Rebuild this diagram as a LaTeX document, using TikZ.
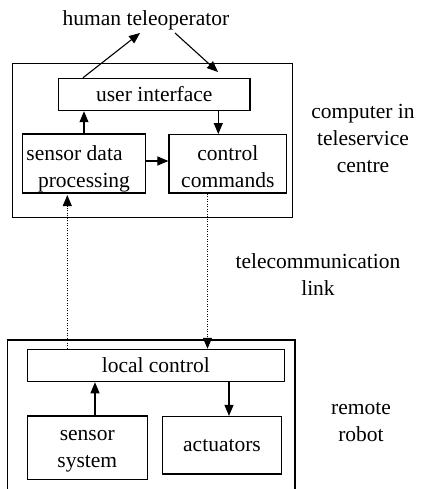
\documentclass[tikz,border=0pt]{standalone}
\usepackage{fontspec}
\setmainfont{Liberation Serif}
\usetikzlibrary{arrows.meta}
\newcommand\fsz{\fontsize{21.5}{27}\selectfont}
\begin{document}
\begin{tikzpicture}[x=1pt,y=-1pt,
  box/.style={draw, line width=1.1pt, inner sep=0pt, align=center, font=\fsz},
  frame/.style={draw, line width=1.1pt, inner sep=0pt},
  arr/.style={line width=1.1pt, -{Triangle[length=11pt,width=9pt]}},
  dotarr/.style={line width=1pt, dash pattern=on 1pt off 1.5pt, -{Triangle[length=11pt,width=9pt]}},
  lbl/.style={inner sep=0pt, align=center, font=\fsz}]
\useasboundingbox (0,0) rectangle (420,489);

% teleservice centre
\node[frame, minimum width=280.4pt, minimum height=154pt] (tsc) at (152.5,140.3) {};
\node[box, minimum width=191.3pt, minimum height=32.4pt] (ui) at (154.3,94.5) {user interface};
\node[box, minimum width=123.4pt, minimum height=57pt] (sdp) at (84,163.5)
  {\rule{0pt}{26pt}sensor data\rule{19pt}{0pt}\\\rule[-6pt]{0pt}{6pt}processing};
\node[box, minimum width=117.7pt, minimum height=57.5pt] (cc) at (227.8,163.8)
  {\rule{0pt}{25.4pt}control\\\rule[-6pt]{0pt}{6pt}commands};

% remote robot
\draw[line width=1.1pt] (7.3,489) -- (7.3,340) -- (295,340) -- (295,489);
\node[box, minimum width=257pt, minimum height=32.4pt] (lc) at (155.8,365.5) {local control};
\node[box, minimum width=120pt, minimum height=63.3pt] (ss) at (87.3,447.6)
  {\rule{0pt}{17.8pt}sensor\\\rule[-6pt]{0pt}{6pt}system};
\node[box, minimum width=119.4pt, minimum height=57.5pt] (act) at (222,445.2) {actuators};

% labels
\node[lbl, anchor=base] (ht) at (146,26) {human teleoperator};
\node[lbl, anchor=north] (comptxt) at (363,98) {\rule{0pt}{20pt}computer in\\teleservice\\centre};
\node[lbl, anchor=north] (tel) at (318,248) {\rule{0pt}{20pt}telecommunication\\link};
\node[lbl, anchor=north] (rr) at (361,394) {\rule{0pt}{20pt}remote\\robot};

% connectors
\coordinate (h1) at (140,33);
\coordinate (h2) at (175,33);
\coordinate (h3) at (218,72);
\draw[arr] (ui.north -| 83,0) -- (h1);
\draw[arr] (h2) -- (h3);
\draw[arr] (sdp.north) -- (sdp.north |- ui.south);
\draw[arr] (ui.south -| 218.3,0) -- (cc.north -| 218.3,0);
\coordinate (m) at ([yshift=2.5pt]sdp.east);
\draw[arr] (m) -- (m -| cc.west);
\draw[dotarr, shorten >=1.5pt] (lc.north -| 67.3,0) -- (sdp.south -| 67.3,0);
\draw[dotarr] (cc.south -| 207.5,0) -- (lc.north -| 207.5,0);
\draw[arr] (ss.north -| 95,0) -- (lc.south -| 95,0);
\draw[arr] (lc.south -| 229,0) -- (act.north -| 229,0);
\end{tikzpicture}
\end{document}
